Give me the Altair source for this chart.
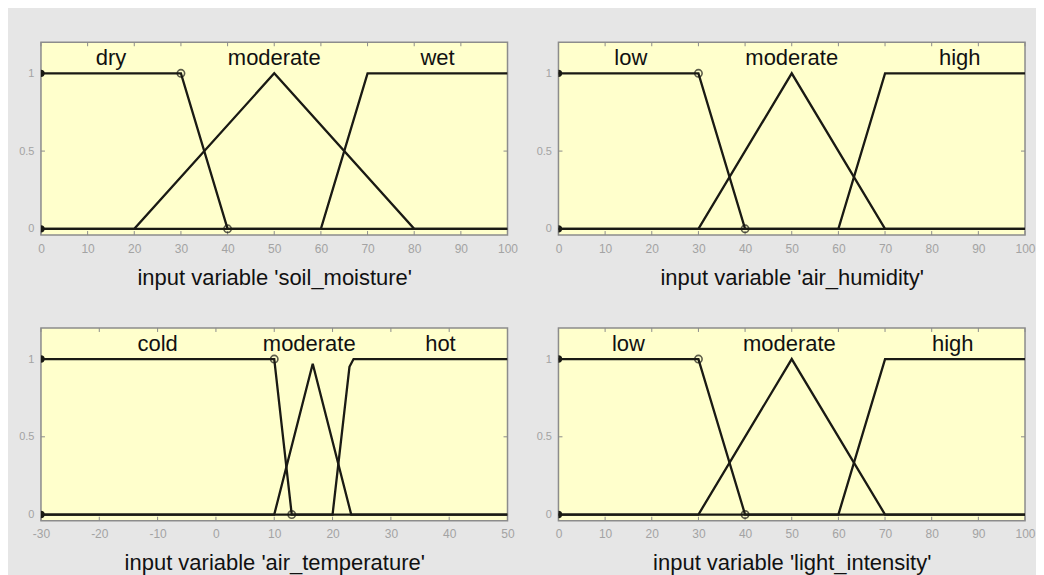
import altair as alt
import pandas as pd

# ---------------- data ----------------
# soil moisture
soil_names = ["dry", "moderate", "wet"]
soil_dry_x = [0, 30, 40, 100]
soil_dry_y = [1, 1, 0, 0]
soil_mod_x = [0, 20, 50, 80, 100]
soil_mod_y = [0, 0, 1, 0, 0]
soil_wet_x = [0, 60, 70, 100]
soil_wet_y = [0, 0, 1, 1]
soil_label_x = [15, 50, 85]
soil_marker_x = [0, 0, 30, 40]
soil_marker_y = [1, 0, 1, 0]

# air humidity
hum_names = ["low", "moderate", "high"]
hum_low_x = [0, 30, 40, 100]
hum_low_y = [1, 1, 0, 0]
hum_mod_x = [0, 30, 50, 70, 100]
hum_mod_y = [0, 0, 1, 0, 0]
hum_high_x = [0, 60, 70, 100]
hum_high_y = [0, 0, 1, 1]
hum_label_x = [15.5, 50, 86]
hum_marker_x = [0, 0, 30, 40]
hum_marker_y = [1, 0, 1, 0]

# air temperature
temp_names = ["cold", "moderate", "hot"]
temp_cold_x = [-30, 10, 13, 50]
temp_cold_y = [1, 1, 0, 0]
temp_mod_x = [-30, 10, 16.6, 23.2, 50]
temp_mod_y = [0, 0, 0.97, 0, 0]
temp_hot_x = [-30, 20, 22.9, 23.6, 50]
temp_hot_y = [0, 0, 0.95, 1, 1]
temp_label_x = [-10, 16, 38.5]
temp_marker_x = [-30, -30, 10, 13]
temp_marker_y = [1, 0, 1, 0]

# light intensity
light_names = ["low", "moderate", "high"]
light_low_x = [0, 30, 40, 100]
light_low_y = [1, 1, 0, 0]
light_mod_x = [0, 30, 50, 70, 100]
light_mod_y = [0, 0, 1, 0, 0]
light_high_x = [0, 60, 70, 100]
light_high_y = [0, 0, 1, 1]
light_label_x = [15, 49.5, 84.5]
light_marker_x = [0, 0, 30, 40]
light_marker_y = [1, 0, 1, 0]

ticks_100 = [0, 10, 20, 30, 40, 50, 60, 70, 80, 90, 100]
ticks_temp = [-30, -20, -10, 0, 10, 20, 30, 40, 50]
y_ticks = [0, 0.5, 1]
label_y = 1.1

# ---------------- styling ----------------
W, H = 467, 193
FONT = "Liberation Sans"
LINE = "#1a1a14"
TICKC = "#8c8c8c"


def panel(title, names, curves, label_x, mk_x, mk_y, domain, ticks):
    rows = []
    for name, (xs, ys) in zip(names, curves):
        for i, (xv, yv) in enumerate(zip(xs, ys)):
            rows.append({"mf": name, "i": i, "x": xv, "y": yv})
    lines_df = pd.DataFrame(rows)
    lab_df = pd.DataFrame({"name": names, "x": label_x, "y": [label_y] * len(names)})
    mk_df = pd.DataFrame({"x": mk_x, "y": mk_y,
                          "edge": [xv == domain[0] for xv in mk_x]})
    xt_df = pd.DataFrame({"x": ticks})
    yt_df = pd.DataFrame({"y": y_ticks})

    xs = alt.Scale(domain=domain, nice=False, zero=False)
    ys = alt.Scale(domain=[-0.04, 1.2], nice=False, zero=False)
    xaxis = alt.Axis(values=ticks, labelExpr="'' + datum.value", title=title,
                     grid=False, domain=False, ticks=False, labelPadding=8,
                     labelFontSize=12, labelColor="#a3a3a3", labelFont=FONT,
                     titleFont=FONT, titleFontSize=22, titleFontWeight="normal",
                     titleColor="#111111", titlePadding=13, labelFlush=False)
    yaxis = alt.Axis(values=y_ticks, labelExpr="'' + datum.value", title=None,
                     grid=False, domain=False, ticks=False, labelPadding=7,
                     labelFontSize=11, labelColor="#a3a3a3", labelFont=FONT)

    lines = alt.Chart(lines_df).mark_line(color=LINE, strokeWidth=2.3, clip=True).encode(
        x=alt.X("x:Q", scale=xs, axis=xaxis),
        y=alt.Y("y:Q", scale=ys, axis=yaxis),
        detail="mf:N",
        order="i:Q",
    )
    labels = alt.Chart(lab_df).mark_text(font=FONT, fontSize=22, color="#111111",
                                         baseline="middle", align="center").encode(
        x=alt.X("x:Q", scale=xs), y=alt.Y("y:Q", scale=ys), text="name:N")
    marks_open = alt.Chart(mk_df).transform_filter("!datum.edge").mark_point(
        shape="circle", size=55, color=LINE, strokeWidth=1.6, filled=False).encode(
        x=alt.X("x:Q", scale=xs), y=alt.Y("y:Q", scale=ys))
    marks_edge = alt.Chart(mk_df).transform_filter("datum.edge").mark_point(
        shape="circle", size=55, color=LINE, filled=True, opacity=1, clip=True).encode(
        x=alt.X("x:Q", scale=xs), y=alt.Y("y:Q", scale=ys))
    tick_top = alt.Chart(xt_df).mark_rule(color=TICKC, strokeWidth=1).encode(
        x=alt.X("x:Q", scale=xs), y=alt.value(0), y2=alt.value(4))
    tick_bot = alt.Chart(xt_df).mark_rule(color=TICKC, strokeWidth=1).encode(
        x=alt.X("x:Q", scale=xs), y=alt.value(H), y2=alt.value(H - 4))
    tick_l = alt.Chart(yt_df).mark_rule(color=TICKC, strokeWidth=1).encode(
        y=alt.Y("y:Q", scale=ys), x=alt.value(0), x2=alt.value(4))
    tick_r = alt.Chart(yt_df).mark_rule(color=TICKC, strokeWidth=1).encode(
        y=alt.Y("y:Q", scale=ys), x=alt.value(W), x2=alt.value(W - 4))
    return alt.layer(tick_top, tick_bot, tick_l, tick_r, lines, marks_open,
                     marks_edge, labels).properties(width=W, height=H)


p_soil = panel("input variable 'soil_moisture'", soil_names,
               [(soil_dry_x, soil_dry_y), (soil_mod_x, soil_mod_y), (soil_wet_x, soil_wet_y)],
               soil_label_x, soil_marker_x, soil_marker_y, [0, 100], ticks_100)
p_hum = panel("input variable 'air_humidity'", hum_names,
              [(hum_low_x, hum_low_y), (hum_mod_x, hum_mod_y), (hum_high_x, hum_high_y)],
              hum_label_x, hum_marker_x, hum_marker_y, [0, 100], ticks_100)
p_temp = panel("input variable 'air_temperature'", temp_names,
               [(temp_cold_x, temp_cold_y), (temp_mod_x, temp_mod_y), (temp_hot_x, temp_hot_y)],
               temp_label_x, temp_marker_x, temp_marker_y, [-30, 50], ticks_temp)
p_light = panel("input variable 'light_intensity'", light_names,
                [(light_low_x, light_low_y), (light_mod_x, light_mod_y), (light_high_x, light_high_y)],
                light_label_x, light_marker_x, light_marker_y, [0, 100], ticks_100)

chart = alt.concat(p_soil, p_hum, p_temp, p_light, columns=2,
                   spacing={"row": 93, "column": 51}, bounds="flush").properties(
    padding={"left": 9, "top": 32, "right": 0, "bottom": 0}
).configure(background="#e6e6e6").configure_view(
    stroke="#8c8c8c", strokeWidth=1.5, fill="#ffffcc"
)

chart.save("out.html", embed_options={"renderer": "svg", "actions": False})
